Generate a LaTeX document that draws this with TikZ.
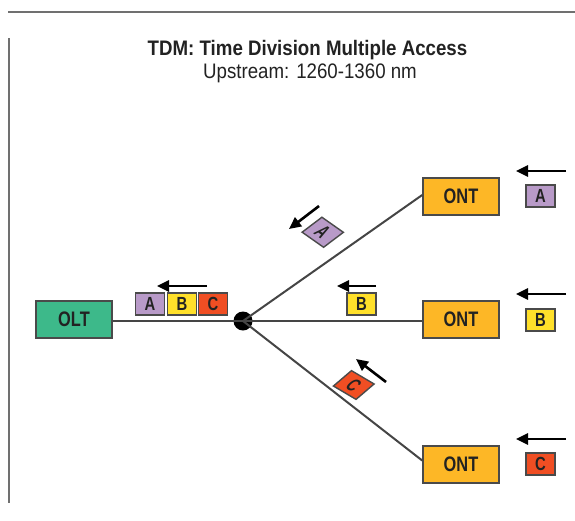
\documentclass[tikz,border=0pt]{standalone}
\usepackage{fontspec}
\setmainfont{Liberation Sans}
\newfontfamily\condfont{Liberation Sans}[FakeStretch=0.78]
\newfontfamily\titlefont{Liberation Sans}[FakeStretch=0.89]
\usetikzlibrary{arrows.meta}
\definecolor{cOLT}{HTML}{3DB98A}
\definecolor{cONT}{HTML}{FDB726}
\definecolor{cA}{HTML}{B89AC8}
\definecolor{cB}{HTML}{FFE02A}
\definecolor{cC}{HTML}{F04E23}
\definecolor{cBorder}{HTML}{4A4A4A}
\definecolor{cLine}{HTML}{454545}
\definecolor{cText}{HTML}{222222}
\definecolor{cFrame}{HTML}{707070}
\tikzset{
  box/.style={draw=cBorder, line width=1.6pt, minimum width=76pt, minimum height=37pt, inner sep=0pt,
    font=\condfont\bfseries\fontsize{21}{21}\selectfont, text=cText},
  pkt/.style={draw=cBorder, line width=1.4pt, minimum width=29pt, minimum height=22pt, inner sep=0pt,
    font=\condfont\bfseries\fontsize{19}{19}\selectfont, text=cText},
  wire/.style={draw=cLine, line width=2pt},
  flow/.style={line width=2.6pt, black, -{Triangle[length=12pt,width=11pt]}},
  frame/.style={draw=cFrame, line width=1.6pt},
}
\begin{document}
\begin{tikzpicture}[x=1pt,y=1pt]
\useasboundingbox (0,0) rectangle (575,-520);
% frame lines
\coordinate (t1) at (8,-12); \coordinate (t2) at (575,-12);
\coordinate (l1) at (9,-38); \coordinate (l2) at (9,-503);
\draw[frame] (t1) -- (t2);
\draw[frame] (l1) -- (l2);
% titles
\node[anchor=base, font=\titlefont\bfseries\fontsize{21}{21}\selectfont, text=cText] (title) at (307.5,-55) {TDM: Time Division Multiple Access};
\node[anchor=base, font=\titlefont\fontsize{21}{21}\selectfont, text=cText] (subtitle) at (310,-78) {Upstream: 1260-1360 nm};
% main boxes
\node[box, fill=cOLT] (OLT) at (74,-319.5) {OLT};
\node[box, fill=cONT] (ONT1) at (461,-196.5) {ONT};
\node[box, fill=cONT] (ONT2) at (461,-319.5) {ONT};
\node[box, fill=cONT] (ONT3) at (461,-464.5) {ONT};
\node[circle, fill=black, minimum size=19pt, inner sep=0pt] (J) at (243,-321) {};
% wires
\draw[wire] (OLT.east |- J.center) -- (J.center);
\draw[wire] (J.center) -- ([yshift=1.5pt]ONT1.west);
\draw[wire] (J.center) -- (J.center -| ONT2.west);
\draw[wire] (J.center) -- ([yshift=4pt]ONT3.west);
% packets at OLT
\node[pkt, fill=cA] (pA1) at (150,-304) {A};
\node[pkt, fill=cB] (pB1) at (182,-304) {B};
\node[pkt, fill=cC] (pC1) at (213,-304) {C};
\coordinate (f1s) at (207,-286); \coordinate (f1e) at (157,-286);
\draw[flow] (f1s) -- (f1e);
% packets at ONTs
\node[pkt, fill=cA] (pA2) at (540.5,-196) {A};
\node[pkt, fill=cB] (pB2) at (540.5,-320) {B};
\node[pkt, fill=cC] (pC2) at (540.5,-464) {C};
\coordinate (f2s) at (566,-171); \coordinate (f2e) at (516,-171);
\coordinate (f3s) at (566,-294); \coordinate (f3e) at (516,-294);
\coordinate (f4s) at (566,-439); \coordinate (f4e) at (516,-439);
\draw[flow] (f2s) -- (f2e);
\draw[flow] (f3s) -- (f3e);
\draw[flow] (f4s) -- (f4e);
% packet on middle branch
\node[pkt, fill=cB] (pB3) at (361.5,-304) {B};
\coordinate (f5s) at (376,-286); \coordinate (f5e) at (337,-286);
\draw[flow] (f5s) -- (f5e);
% packets on slanted branches
\begin{scope}[shift={(322.75,-232.25)}, cm={0.74,-0.52,0.9,0.68,(0,0)}]
  \node[pkt, fill=cA, transform shape] (dA) at (0,0) {A};
\end{scope}
\begin{scope}[shift={(353.75,-385)}, cm={0.78,-0.46,0.82,0.7,(0,0)}]
  \node[pkt, fill=cC, transform shape] (dC) at (0,0) {C};
\end{scope}
\coordinate (f6s) at (319,-206); \coordinate (f6e) at (289,-229);
\coordinate (f7s) at (386,-382); \coordinate (f7e) at (356,-359);
\draw[flow] (f6s) -- (f6e);
\draw[flow] (f7s) -- (f7e);
\end{tikzpicture}
\end{document}
